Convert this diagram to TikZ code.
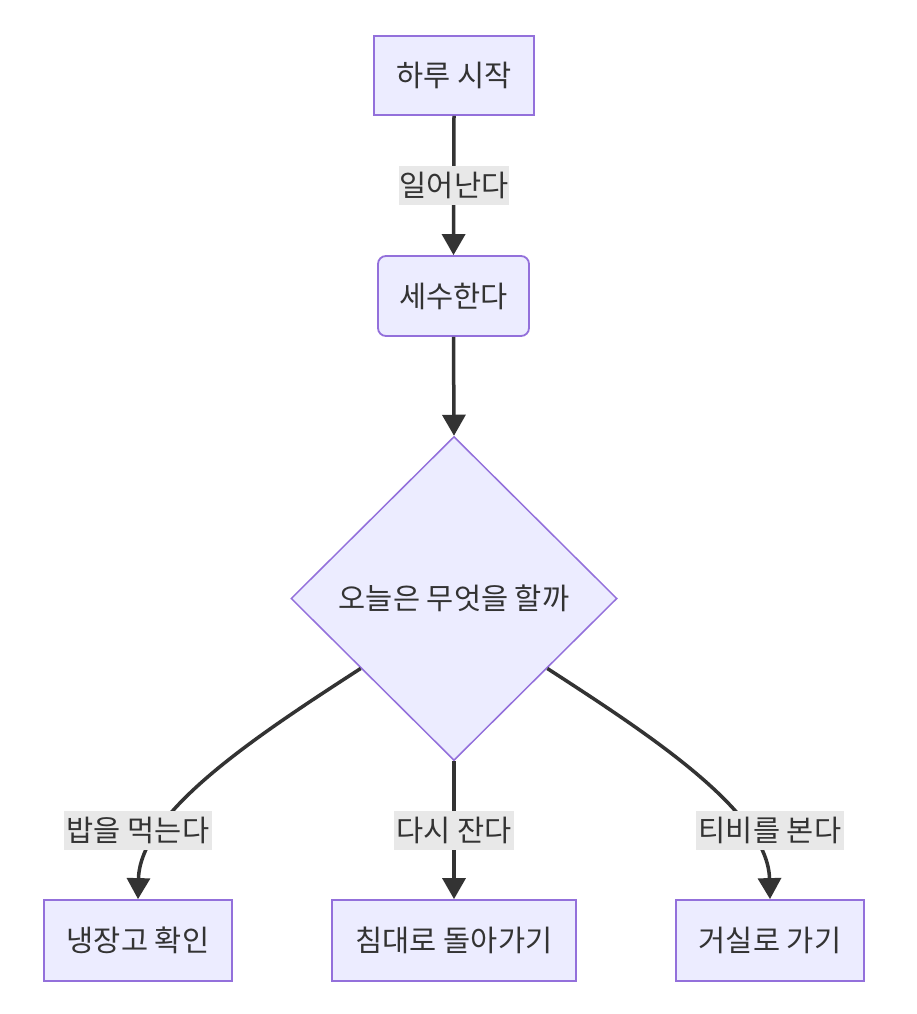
\documentclass[tikz,border=0pt]{standalone}
\usepackage{fontspec}
\newfontfamily\kr{Noto Sans CJK KR}
\usetikzlibrary{arrows.meta,shapes.geometric,calc}
\definecolor{nodefill}{HTML}{ECECFF}
\definecolor{nodeline}{HTML}{9370DB}
\definecolor{edgecol}{HTML}{333333}
\definecolor{labelbg}{HTML}{E8E8E8}
\definecolor{txt}{HTML}{333333}
\tikzset{
  box/.style={draw=nodeline, fill=nodefill, line width=1.8pt, inner sep=0pt,
    minimum height=80pt, text=txt, font=\kr\fontsize{29.5}{34}\selectfont},
  rbox/.style={box, rounded corners=8pt},
  dec/.style={diamond, draw=nodeline, fill=nodefill, line width=1.5pt, inner sep=0pt,
    minimum width=326pt, minimum height=324pt, text=txt, font=\kr\fontsize{29.5}{34}\selectfont},
  elabel/.style={fill=labelbg, inner sep=0pt, minimum height=39pt, text=txt,
    font=\kr\fontsize{29.5}{34}\selectfont},
  conn/.style={draw=edgecol, line width=3.5pt, -{Triangle[length=21pt,width=23pt]}},
}
\begin{document}
\begin{tikzpicture}[x=1pt,y=-1pt]
\useasboundingbox (0,0) rectangle (916,1014);
\fill[white] (0,0) rectangle (916,1014);
\node[box, minimum width=160pt, minimum height=79pt] (start) at (454,75.5) {하루 시작};
\node[rbox, minimum width=151pt] (wash) at (453.5,296) {세수한다};
\node[dec] (d) at (454,598.5) {오늘은 무엇을 할까};
\node[box, minimum width=188pt, minimum height=81pt] (fridge) at (138,940.5) {냉장고 확인};
\node[box, minimum width=244pt, minimum height=81pt] (bed) at (454,940.5) {침대로 돌아가기};
\node[box, minimum width=188pt, minimum height=81pt] (living) at (770,940.5) {거실로 가기};

\coordinate (dl) at ($(d.west)!0.43!(d.south)$);
\coordinate (dr) at ($(d.east)!0.43!(d.south)$);

\draw[conn] (start.south) -- (wash.north);
\draw[conn] (wash.south) -- (d.north);
\draw[conn] (d.south) -- (bed.north);
\draw[conn] (dl) .. controls (258,735) and (140,812) .. (fridge.north);
\draw[conn] (dr) .. controls (650,735) and (768,812) .. (living.north);

\node[elabel, minimum width=110pt] (l1) at (454,185.5) {일어난다};
\node[elabel, minimum width=148pt] (l2) at (138,830.5) {밥을 먹는다};
\node[elabel, minimum width=120pt] (l3) at (454,830.5) {다시 잔다};
\node[elabel, minimum width=148pt] (l4) at (770,830.5) {티비를 본다};
\end{tikzpicture}
\end{document}
